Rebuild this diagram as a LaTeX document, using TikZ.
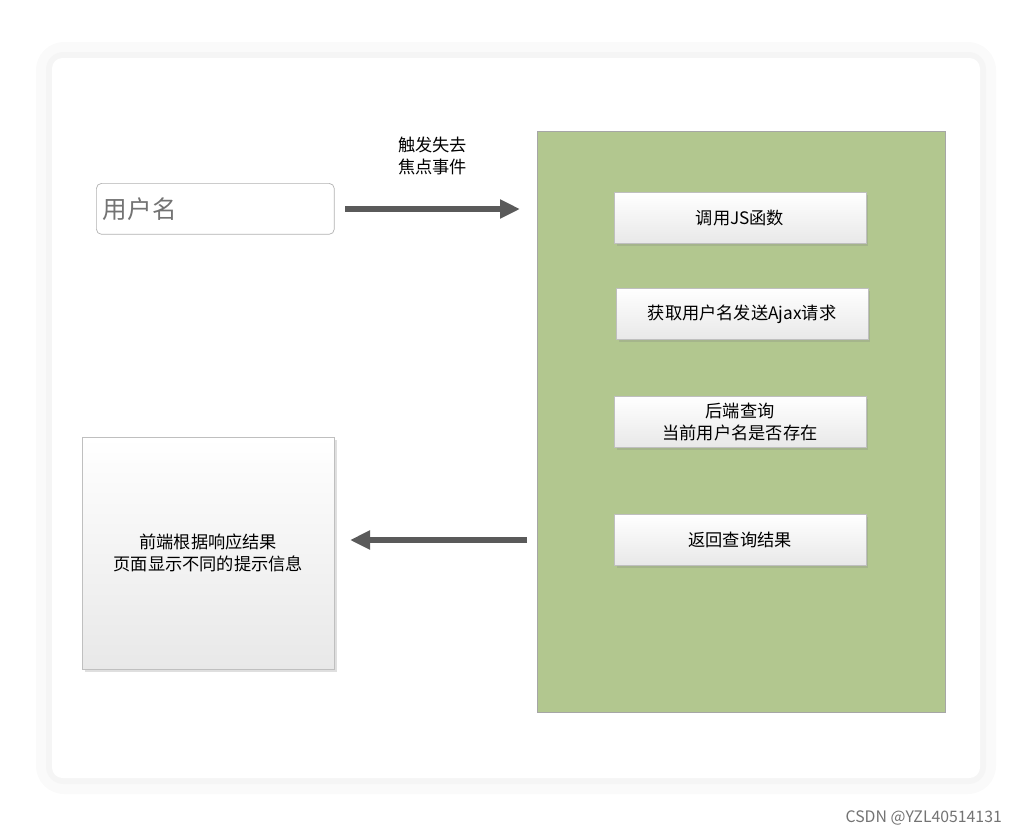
\documentclass[tikz,border=0pt]{standalone}
\usepackage{fontspec}
\setmainfont{Noto Sans CJK SC}[BoldFont={Noto Sans CJK SC Medium}]
\usetikzlibrary{arrows.meta,positioning,shadows}
\definecolor{panelgreen}{HTML}{B2C78F}
\definecolor{arrowgray}{HTML}{5A5A5A}
\tikzset{
  stepbox/.style={draw=black!25, top color=white, bottom color=black!9, minimum width=5.04cm, minimum height=1.02cm, align=center, font=\fontsize{9.8}{12.5}\selectfont, drop shadow={opacity=0.25, shadow xshift=0.05cm, shadow yshift=-0.05cm}},
  flow/.style={-{Triangle[length=0.4cm,width=0.36cm]}, line width=1.3mm, draw=arrowgray}
}
\begin{document}
\begin{tikzpicture}[x=0.02cm,y=-0.02cm]
\useasboundingbox (0,0) rectangle (1021,836);
% card
\fill[black!2, rounded corners=16pt] (36,42) rectangle (996,794);
\fill[black!4, rounded corners=10pt] (46,52) rectangle (986,784);
\fill[white, rounded corners=6pt] (52,58) rectangle (980,778);

% input field
\node[draw=black!30, rounded corners=3pt, minimum width=4.76cm, minimum height=1.02cm, anchor=north west, text width=4.5cm, font=\fontsize{14}{16}\selectfont, text=black!55] (user) at (96,183) {用户名};

% green panel
\node[draw=black!35, fill=panelgreen, minimum width=8.16cm, minimum height=11.62cm, anchor=north west] (panel) at (537,131) {};

% steps
\node[stepbox] (call) at (740,218) {调用JS函数};
\node[stepbox] (ajax) at (742,314) {获取用户名发送Ajax请求};
\node[stepbox] (query) at (740,422) {后端查询\\当前用户名是否存在};
\node[stepbox] (back) at (740,540) {返回查询结果};

% result box
\node[stepbox, minimum height=4.64cm, anchor=north west] (show) at (82,437) {前端根据响应结果\\页面显示不同的提示信息};

% arrows
\coordinate (inR) at (345,209);
\coordinate (inP) at (520,209);
\draw[flow] (inR) -- (inP) node[midway, above=0.5cm, align=center, font=\fontsize{9.8}{12.5}\selectfont] {触发失去\\焦点事件};
\coordinate (outP) at (527,540);
\coordinate (outL) at (350,540);
\draw[flow] (outP) -- (outL);

\node[anchor=east, text=black!55, font=\fontsize{9}{11}\selectfont] (mark) at (1008,818) {CSDN @YZL40514131};
\end{tikzpicture}
\end{document}
